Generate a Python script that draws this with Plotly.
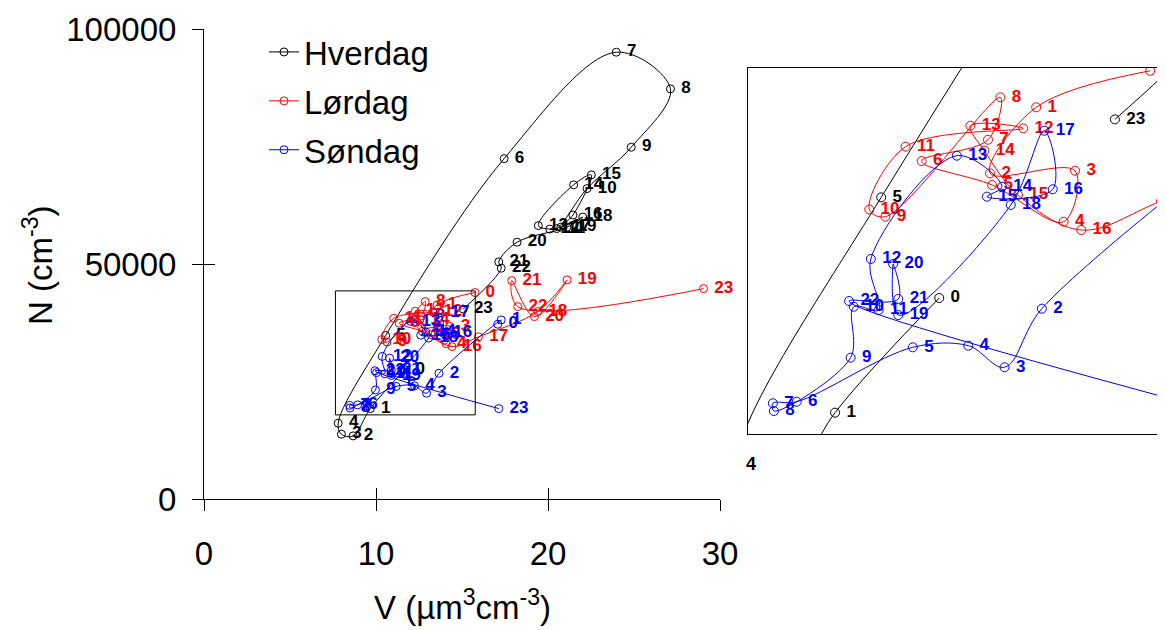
import plotly.graph_objects as go

hours = list(range(24))

# Hverdag (weekday)
hverdag_v = [11.68, 9.67, 8.67, 7.99, 7.80, 10.56, 17.45, 23.97, 27.12, 24.84, 22.27, 20.50,
             20.10, 19.44, 21.49, 22.52, 21.45, 20.75, 22.02, 21.10, 18.20, 17.14, 17.28, 15.07]
hverdag_n = [27580, 19300, 13490, 13850, 16190, 34850, 72490, 95130, 87320, 74910, 66110, 57600,
             57500, 58230, 66900, 69020, 60480, 57900, 60050, 57900, 54700, 50510, 49170, 40480]

# Lørdag (Saturday)
lordag_v = [15.75, 13.55, 12.66, 14.30, 14.08, 12.70, 11.34, 12.62, 12.86, 10.64, 10.33, 11.03,
            13.30, 12.28, 12.55, 13.20, 14.42, 15.96, 19.40, 21.11, 19.21, 17.89, 18.24, 29.04]
lordag_n = [43990, 41350, 36580, 36770, 33090, 35740, 37470, 39010, 42070, 33450, 33980, 38510,
            39830, 40020, 38220, 35020, 32490, 34580, 39940, 46680, 38870, 46530, 41000, 44830]

# Søndag (Sunday)
sondag_v = [17.08, 17.28, 13.66, 12.94, 12.24, 11.17, 8.93, 8.47, 8.49, 9.97, 10.03, 10.51,
            10.36, 12.02, 12.89, 12.60, 13.87, 13.71, 13.06, 10.89, 10.79, 10.89, 9.94, 17.14]
sondag_n = [37250, 38170, 26810, 22580, 24140, 24020, 20090, 19980, 19420, 23270, 26950, 26710,
            30400, 37860, 35620, 34900, 35430, 39660, 34300, 26350, 30040, 27510, 27360, 19300]

x_ticks = [0, 10, 20, 30]
x_ticktext = ["0", "10", "20", "30"]
y_ticks = [0, 50000, 100000]
y_ticktext = ["0", "50000", "100000"]

series = [
    ("Hverdag", hverdag_v, hverdag_n, "#000000"),
    ("Lørdag", lordag_v, lordag_n, "#FF0000"),
    ("Søndag", sondag_v, sondag_n, "#0000FF"),
]

FONT = "Liberation Sans, Arial, sans-serif"
labels = ["\u00a0" + str(h) for h in hours]

W, H, OFF = 1165, 630, 8  # page body margin shifts the figure by 8 px


def sx(px):
    return (px - OFF) / W


def sy(py):
    return (H - (py - OFF)) / H


inset_xdom = [sx(748), sx(1159)]
inset_ydom = [sy(434), sy(68)]
inset_xrange = [7.99, 15.92]
inset_yrange = [17760, 44190]


def inset_paper(v, n):
    fx = inset_xdom[0] + (v - inset_xrange[0]) / (inset_xrange[1] - inset_xrange[0]) * (inset_xdom[1] - inset_xdom[0])
    fy = inset_ydom[0] + (n - inset_yrange[0]) / (inset_yrange[1] - inset_yrange[0]) * (inset_ydom[1] - inset_ydom[0])
    return fx, fy


fig = go.Figure()

for name, xs, ys, col in series:
    fig.add_trace(go.Scatter(
        x=xs, y=ys, name=name, mode="lines+markers+text", legendgroup=name,
        line=dict(color=col, width=1, shape="spline", smoothing=1.0),
        marker=dict(symbol="circle-open", size=8, color=col, line=dict(width=1, color=col)),
        text=labels, textposition="middle right",
        textfont=dict(family=FONT, size=17, color=col, weight="bold"),
        xaxis="x", yaxis="y", cliponaxis=False,
    ))

for name, xs, ys, col in series:
    fig.add_trace(go.Scatter(
        x=xs, y=ys, name=name, mode="lines+markers+text", showlegend=False,
        line=dict(color=col, width=1, shape="spline", smoothing=1.0),
        marker=dict(symbol="circle-open", size=9, color=col, line=dict(width=1, color=col)),
        text=labels, textposition="middle right",
        textfont=dict(family=FONT, size=17, color=col, weight="bold"),
        xaxis="x2", yaxis="y2", cliponaxis=True,
    ))

# empty trace for inside tick overlay axes
fig.add_trace(go.Scatter(x=[], y=[], xaxis="x3", yaxis="y3", showlegend=False))

xdom = [sx(204), sx(720)]
ydom = [sy(499.3), sy(29.3)]

axis_common = dict(showgrid=False, zeroline=False, showline=True, linecolor="black",
                   linewidth=1, ticks="outside", ticklen=11, tickwidth=1, tickcolor="black",
                   automargin=False,
                   tickfont=dict(family=FONT, size=33, color="black"))

lab4_x, lab4_y = inset_paper(hverdag_v[4], hverdag_n[4])

fig.update_layout(
    width=W, height=H,
    margin=dict(l=0, r=0, t=0, b=0, autoexpand=False),
    paper_bgcolor="white", plot_bgcolor="rgba(0,0,0,0)",
    xaxis=dict(domain=xdom, range=[0, 30], tickvals=x_ticks, ticktext=x_ticktext, anchor="y",
               ticklabelstandoff=14, **axis_common),
    yaxis=dict(domain=ydom, range=[0, 100000], tickvals=y_ticks, ticktext=y_ticktext,
               anchor="x", ticklabelstandoff=9, **axis_common),
    xaxis3=dict(overlaying="x", anchor="y", range=[0, 30], tickvals=x_ticks, automargin=False,
                ticks="inside", ticklen=11, tickcolor="black", showticklabels=False,
                showgrid=False, zeroline=False, showline=False),
    yaxis3=dict(overlaying="y", anchor="x", range=[0, 100000], tickvals=y_ticks, automargin=False,
                ticks="inside", ticklen=11, tickcolor="black", showticklabels=False,
                showgrid=False, zeroline=False, showline=False),
    xaxis2=dict(domain=inset_xdom, range=inset_xrange, anchor="y2",
                showgrid=False, zeroline=False, showticklabels=False, ticks="", automargin=False,
                showline=True, mirror=True, linecolor="black", linewidth=1),
    yaxis2=dict(domain=inset_ydom, range=inset_yrange, anchor="x2",
                showgrid=False, zeroline=False, showticklabels=False, ticks="", automargin=False,
                showline=True, mirror=True, linecolor="black", linewidth=1),
    legend=dict(x=256 / W, y=(H - 16) / H, xanchor="left", yanchor="top",
                font=dict(family=FONT, size=33, color="black"), itemwidth=30,
                bgcolor="rgba(0,0,0,0)", tracegroupgap=3),
    showlegend=True,
    shapes=[dict(type="rect", xref="x", yref="y", x0=7.64, x1=15.77, y0=17960, y1=44340,
                 line=dict(color="black", width=1), fillcolor="rgba(0,0,0,0)")],
    annotations=[
        dict(text="N (cm<sup>-3</sup>)", xref="paper", yref="paper", x=sx(38),
             y=sy(265), textangle=-90, showarrow=False, xanchor="center",
             yanchor="middle", font=dict(family=FONT, size=33, color="black")),
        dict(text="V (µm<sup>3</sup>cm<sup>-3</sup>)", xref="paper", yref="paper",
             x=sx(462), y=sy(605), showarrow=False, xanchor="center",
             yanchor="middle", font=dict(family=FONT, size=33, color="black")),
        # weekday hour-4 label that spills below the inset frame
        dict(text="<b>" + str(hours[4]) + "</b>", xref="paper", yref="paper",
             x=lab4_x, y=lab4_y, showarrow=False, xanchor="left",
             yanchor="top", xshift=6, yshift=4, font=dict(family=FONT, size=18, color="black")),
    ],
)

fig.write_html("out.html")
